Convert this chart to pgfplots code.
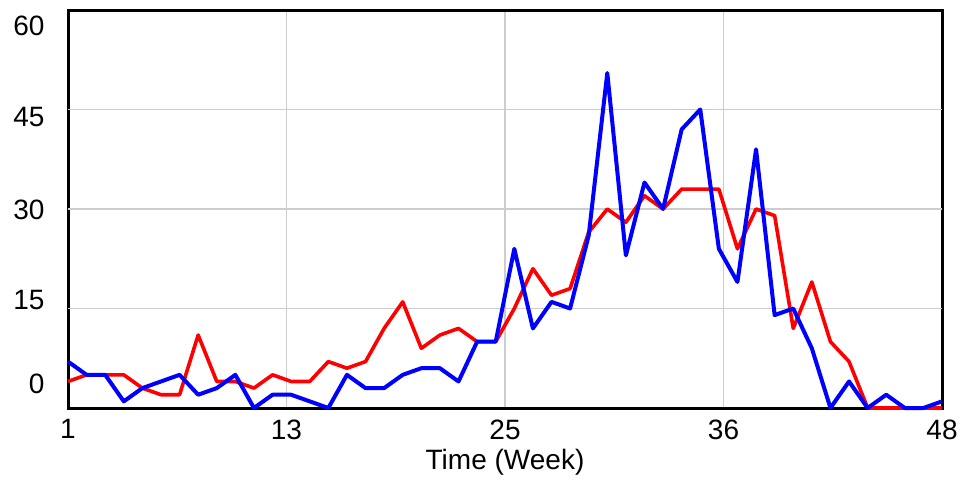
\documentclass[border=0pt]{standalone}
\usepackage{pgfplots}
\pgfplotsset{compat=1.18}
\usepackage{fontspec}
\setmainfont{Liberation Sans}
\definecolor{vred}{RGB}{255,0,0}
\definecolor{vblue}{RGB}{0,0,255}
\definecolor{gridgray}{RGB}{205,205,205}
\begin{document}
\begin{tikzpicture}
\useasboundingbox (-68pt,-72pt) rectangle (895pt,408pt);
\begin{axis}[
  at={(0pt,0pt)}, anchor=south west,
  scale only axis, width=874pt, height=398pt,
  xmin=1, xmax=48, ymin=0, ymax=60,
  axis line style={line width=3pt, black},
  font=\fontsize{28}{31}\selectfont,
  /pgf/number format/assume math mode=true,
  xtick={1,12.75,24.5,36.25,48},
  xticklabels={1,13,25,36,48},
  xmajorgrids=true,
  major grid style={gridgray, line width=1.3pt},
  ytick={3.6,16.3,29.9,43.8,57.6},
  yticklabels={0,15,30,45,60},
  major tick length=0pt,
  extra y ticks={15,30,45},
  extra y tick labels={},
  extra y tick style={ymajorgrids=true, major tick length=0pt},
  xticklabel style={yshift=-8pt},
  yticklabel style={xshift=-20pt},
  xlabel={Time (Week)},
  xlabel style={yshift=-3pt},
  clip=false,
]
\addplot[vred, line width=3.6pt, line join=round] coordinates {
(1,4)(2,5)(3,5)(4,5)(5,3)(6,2)(7,2)(8,11)(9,4)(10,4)(11,3)(12,5)(13,4)(14,4)(15,7)(16,6)
(17,7)(18,12)(19,16)(20,9)(21,11)(22,12)(23,10)(24,10)(25,15)(26,21)(27,17)(28,18)(29,26.5)(30,30)
(31,28)(32,32)(33,30)(34,33)(35,33)(36,33)(37,24)(38,30)(39,29)(40,12)(41,19)(42,10)(43,7)(44,0)
(45,0)(46,0)(47,0)(48,0)};
\addplot[vblue, line width=4pt, line join=round] coordinates {
(1,7)(2,5)(3,5)(4,1)(5,3)(6,4)(7,5)(8,2)(9,3)(10,5)(11,0)(12,2)(13,2)(14,1)(15,0)(16,5)
(17,3)(18,3)(19,5)(20,6)(21,6)(22,4)(23,10)(24,10)(25,24)(26,12)(27,16)(28,15)(29,26)(30,50.5)
(31,23)(32,34)(33,30)(34,42)(35,45)(36,24)(37,19)(38,39)(39,14)(40,15)(41,9)(42,0)(43,4)(44,0)
(45,2)(46,0)(47,0)(48,1)};
\end{axis}
\end{tikzpicture}
\end{document}
